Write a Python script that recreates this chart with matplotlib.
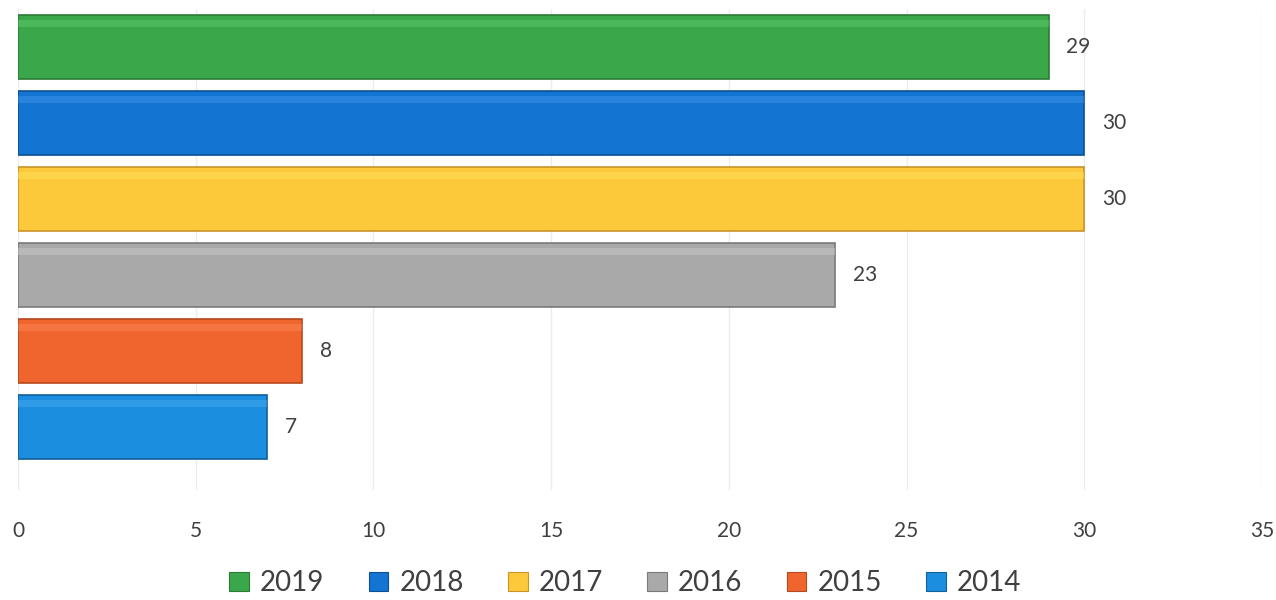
import matplotlib.pyplot as plt
from matplotlib.patches import Patch

# Data
years = ['2019', '2018', '2017', '2016', '2015', '2014']
values = [29, 30, 30, 23, 8, 7]
colors = ['#3aa84a', '#1474d2', '#fcc93a', '#a9a9a9', '#f0652e', '#1c8ee0']
edges = ['#2b7a36', '#0d4f93', '#c9942a', '#7a7a7a', '#b8481f', '#125f9a']
highlights = ['#5cc868', '#3a92e6', '#ffe05a', '#c8c8c8', '#f88656', '#45a8ee']
xticks = [0, 5, 10, 15, 20, 25, 30, 35]

plt.rcParams['font.family'] = ['Lato', 'DejaVu Sans']

fig = plt.figure(figsize=(12.76, 6), dpi=100)
ax = fig.add_axes([0.0141, 0.1833, 0.9749, 0.8017])

pos = list(range(len(years)))
ax.barh(pos, values, height=0.84, color=colors, edgecolor=edges, linewidth=1.2,
        zorder=3)
# lighter top strip to hint the bevel look
ax.barh([p - 0.31 for p in pos], values, height=0.1, color=highlights,
        linewidth=0, zorder=4, alpha=0.5)

for p, v in zip(pos, values):
    ax.text(v + 0.5, p, str(v), va='center', ha='left', fontsize=15,
            color='#404040')

ax.set_xlim(0, 35)
ax.set_ylim(5.83, -0.5)
ax.set_xticks(xticks)
ax.set_xticklabels([str(t) for t in xticks], fontsize=15, color='#404040')
ax.tick_params(axis='x', length=0, pad=22)
ax.set_yticks([])
ax.grid(axis='x', color='#ececec', linewidth=1, zorder=0)
for s in ax.spines.values():
    s.set_visible(False)

handles = [Patch(facecolor=c, edgecolor=e, linewidth=0.8) for c, e in zip(colors, edges)]
fig.legend(handles, years, loc='lower center', bbox_to_anchor=(0.49, -0.035),
           ncol=6, frameon=False, fontsize=20, handlelength=0.7,
           handleheight=0.7, handletextpad=0.4, columnspacing=1.6,
           labelcolor='#404040')

fig.savefig('out.png', dpi=100)
